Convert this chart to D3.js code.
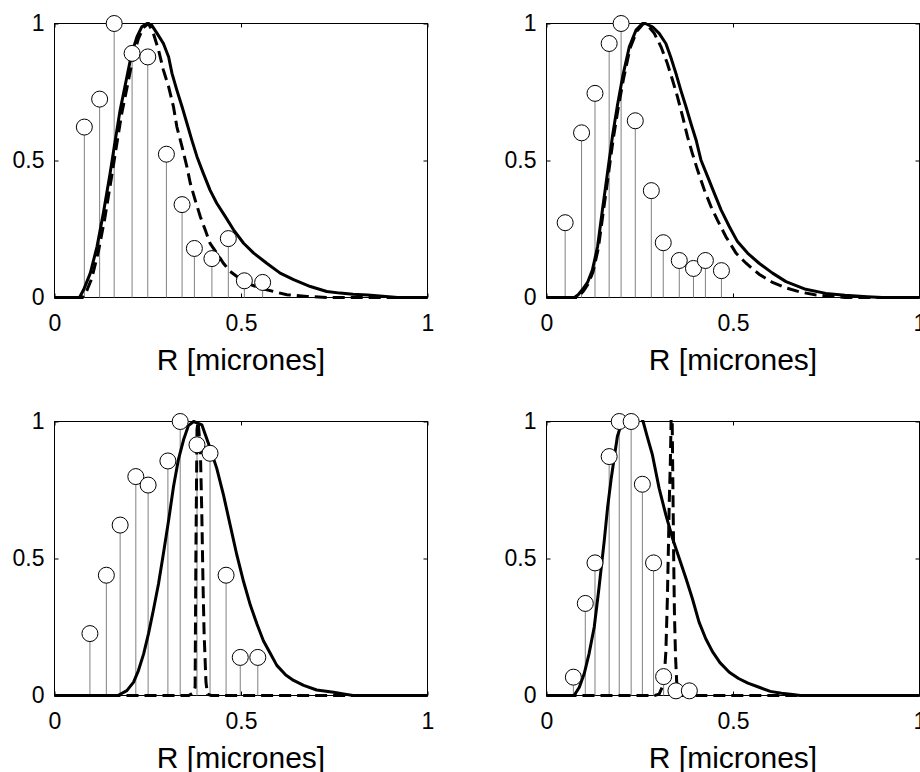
<!DOCTYPE html>
<html lang="en">
<head>
<meta charset="UTF-8">
<title>Distribucion de radios</title>
<script src="https://cdnjs.cloudflare.com/ajax/libs/d3/7.8.5/d3.min.js"></script>
<style>
    body { margin: 0; background: #fff; }
    svg { display: block; font-family: "Liberation Sans", Arial, sans-serif; }
    .stem { stroke: #808080; stroke-width: 1; }
    .marker { fill: #fff; stroke: #000; stroke-width: 1; }
    .solid { fill: none; stroke: #000; stroke-width: 3; stroke-linejoin: round; }
    .dashed { fill: none; stroke: #000; stroke-width: 3; stroke-dasharray: 12,6; }
    .box { fill: none; stroke: #000; stroke-width: 1; }
    .axis-label { font-size: 30px; text-anchor: middle; fill: #000; }
</style>
</head>
<body>
<div id="chart"></div>
<script>
// ticks and labels
const xTicks = [0, 0.5, 1];
const yTicks = [0, 0.5, 1];
const tickLabels = ["0", "0.5", "1"];
const xLabel = "R [micrones]";

// top left
const stemR1 = [0.080, 0.121, 0.160, 0.208, 0.250, 0.300, 0.342, 0.375, 0.422, 0.466, 0.509, 0.558];
const stemV1 = [0.622, 0.724, 1.0, 0.891, 0.878, 0.523, 0.339, 0.179, 0.142, 0.215, 0.061, 0.055];
const solid1 = [[0,0],[0.067,0],[0.078,0.028],[0.096,0.089],[0.114,0.186],[0.131,0.308],[0.149,0.453],[0.163,0.575],
    [0.176,0.684],[0.194,0.805],[0.207,0.891],[0.221,0.951],[0.234,0.988],[0.248,1.0],[0.26,0.995],[0.275,0.964],
    [0.292,0.927],[0.306,0.878],[0.315,0.818],[0.328,0.757],[0.342,0.696],[0.355,0.636],[0.368,0.575],[0.382,0.514],
    [0.399,0.453],[0.417,0.392],[0.435,0.344],[0.458,0.295],[0.48,0.247],[0.507,0.198],[0.534,0.162],[0.569,0.125],
    [0.605,0.089],[0.641,0.065],[0.686,0.04],[0.73,0.022],[0.766,0.016],[0.8,0.012],[0.84,0.009],[0.88,0.005],[0.92,0],[1,0]];
const dashed1 = [[0,0],[0.075,0],[0.082,0.01],[0.1,0.07],[0.118,0.17],[0.135,0.29],[0.153,0.44],[0.167,0.56],
    [0.18,0.67],[0.198,0.79],[0.211,0.88],[0.225,0.945],[0.238,0.985],[0.252,1.0],[0.265,0.964],[0.279,0.903],
    [0.292,0.83],[0.306,0.769],[0.319,0.696],[0.328,0.623],[0.342,0.55],[0.355,0.477],[0.364,0.417],[0.377,0.356],
    [0.391,0.295],[0.404,0.247],[0.417,0.198],[0.435,0.162],[0.453,0.125],[0.471,0.095],[0.489,0.077],[0.516,0.052],
    [0.552,0.034],[0.587,0.022],[0.623,0.01],[0.677,0.004],[0.73,0],[1,0]];

// top right
const stemR2 = [0.050, 0.094, 0.130, 0.168, 0.200, 0.238, 0.281, 0.313, 0.356, 0.394, 0.426, 0.469];
const stemV2 = [0.273, 0.601, 0.745, 0.927, 1.0, 0.645, 0.390, 0.200, 0.135, 0.106, 0.135, 0.098];
const solid2 = [[0,0],[0.075,0],[0.085,0.01],[0.097,0.03],[0.11,0.055],[0.123,0.1],[0.137,0.186],[0.15,0.32],
    [0.164,0.46],[0.177,0.59],[0.19,0.7],[0.204,0.805],[0.222,0.915],[0.24,0.976],[0.257,1.0],[0.265,1.0],
    [0.284,0.988],[0.302,0.964],[0.32,0.927],[0.333,0.878],[0.347,0.818],[0.36,0.757],[0.374,0.696],[0.387,0.636],
    [0.401,0.575],[0.414,0.502],[0.432,0.441],[0.45,0.38],[0.468,0.32],[0.49,0.259],[0.512,0.204],[0.539,0.162],
    [0.57,0.125],[0.606,0.089],[0.642,0.058],[0.695,0.03],[0.749,0.015],[0.8,0.008],[0.86,0.003],[0.9,0],[1,0]];
const dashed2 = [[0,0],[0.08,0],[0.09,0.01],[0.1,0.025],[0.112,0.05],[0.125,0.095],[0.139,0.18],[0.152,0.31],
    [0.166,0.45],[0.179,0.58],[0.192,0.69],[0.206,0.795],[0.224,0.91],[0.242,0.972],[0.26,1.0],[0.268,0.998],
    [0.289,0.964],[0.307,0.915],[0.324,0.854],[0.338,0.793],[0.351,0.733],[0.365,0.66],[0.378,0.587],[0.391,0.526],
    [0.405,0.465],[0.423,0.393],[0.441,0.332],[0.458,0.283],[0.481,0.222],[0.508,0.162],[0.535,0.125],[0.57,0.085],
    [0.606,0.055],[0.642,0.035],[0.68,0.02],[0.72,0.01],[0.76,0.005],[0.8,0],[1,0]];

// bottom left
const stemR3 = [0.095, 0.139, 0.176, 0.218, 0.251, 0.304, 0.337, 0.382, 0.417, 0.460, 0.498, 0.545];
const stemV3 = [0.226, 0.439, 0.622, 0.799, 0.768, 0.856, 1.0, 0.915, 0.884, 0.439, 0.139, 0.139];
const solid3 = [[0,0],[0.17,0],[0.194,0.018],[0.212,0.049],[0.225,0.091],[0.239,0.152],[0.252,0.226],[0.265,0.311],
    [0.279,0.409],[0.292,0.518],[0.306,0.64],[0.319,0.762],[0.332,0.86],[0.346,0.933],[0.359,0.985],[0.373,1.0],
    [0.395,0.988],[0.417,0.903],[0.435,0.829],[0.453,0.732],[0.471,0.622],[0.489,0.512],[0.507,0.415],[0.525,0.33],
    [0.543,0.26],[0.56,0.2],[0.578,0.155],[0.596,0.11],[0.62,0.075],[0.641,0.055],[0.668,0.037],[0.703,0.02],
    [0.748,0.012],[0.775,0.006],[0.8,0],[1,0]];
const dashed3 = [[0,0],[0.36,0],[0.372,0.01],[0.377,0.03],[0.379,0.5],[0.382,0.97],[0.385,1.0],[0.391,0.9],
    [0.395,0.66],[0.398,0.42],[0.401,0.23],[0.406,0.05],[0.41,0.005],[0.42,0],[1,0]];

// bottom right
const stemR4 = [0.072, 0.104, 0.130, 0.168, 0.195, 0.227, 0.257, 0.287, 0.314, 0.347, 0.383];
const stemV4 = [0.067, 0.336, 0.484, 0.872, 1.0, 1.0, 0.771, 0.484, 0.069, 0.017, 0.017];
const solid4 = [[0,0],[0.074,0],[0.088,0.03],[0.101,0.079],[0.114,0.152],[0.128,0.25],[0.141,0.396],[0.155,0.567],
    [0.164,0.689],[0.173,0.787],[0.182,0.872],[0.19,0.945],[0.204,1.006],[0.215,1.04],[0.23,1.05],[0.245,1.04],
    [0.259,1.0],[0.271,0.94],[0.284,0.878],[0.302,0.756],[0.32,0.659],[0.338,0.573],[0.356,0.5],[0.374,0.427],
    [0.391,0.354],[0.409,0.268],[0.427,0.207],[0.445,0.16],[0.465,0.12],[0.49,0.085],[0.515,0.062],[0.54,0.045],
    [0.57,0.03],[0.6,0.015],[0.63,0.008],[0.66,0.004],[0.68,0],[1,0]];
const dashed4 = [[0,0],[0.29,0],[0.302,0.005],[0.31,0.03],[0.316,0.075],[0.32,0.16],[0.324,0.35],[0.327,0.55],
    [0.329,0.7],[0.332,0.85],[0.334,1.0],[0.336,1.08],[0.337,1.0],[0.339,0.75],[0.341,0.5],[0.343,0.3],
    [0.346,0.14],[0.349,0.05],[0.353,0.01],[0.36,0],[1,0]];

// panel layout
const W = 373, H = 274;
const panels = [
    {left: 54.5,  top: 23.5,  stemR: stemR1, stemV: stemV1, solid: solid1, dashed: dashed1},
    {left: 546.5, top: 23.5,  stemR: stemR2, stemV: stemV2, solid: solid2, dashed: dashed2},
    {left: 54.5,  top: 421.5, stemR: stemR3, stemV: stemV3, solid: solid3, dashed: dashed3},
    {left: 546.5, top: 421.5, stemR: stemR4, stemV: stemV4, solid: solid4, dashed: dashed4}
];

const svg = d3.select("#chart")
    .append("svg")
    .attr("width", 920)
    .attr("height", 772);

const x = d3.scaleLinear().domain([0, 1]).range([0, W]);
const y = d3.scaleLinear().domain([0, 1]).range([H, 0]);

const line = d3.line()
    .x(d => x(d[0]))
    .y(d => y(d[1]));

panels.forEach((p, i) => {
    const g = svg.append("g").attr("transform", `translate(${p.left},${p.top})`);

    g.append("clipPath")
        .attr("id", "clip" + i)
        .append("rect")
        .attr("x", -3).attr("y", -1.5)
        .attr("width", W + 6).attr("height", H + 4.5);

    // axes, ticks pointing inward like matlab
    const styleAxis = sel => {
        sel.select(".domain").remove();
        sel.selectAll(".tick line").attr("stroke", "#000");
        sel.selectAll(".tick text")
            .attr("fill", "#000")
            .attr("font-size", "23px")
            .attr("font-family", "'Liberation Sans', Arial, sans-serif");
    };

    g.append("g")
        .attr("transform", `translate(0,${H})`)
        .call(d3.axisBottom(x).tickValues(xTicks).tickFormat((d, k) => tickLabels[k])
            .tickSizeInner(-4).tickSizeOuter(0).tickPadding(17))
        .call(styleAxis);
    g.append("g")
        .call(d3.axisLeft(y).tickValues(yTicks).tickFormat((d, k) => tickLabels[k])
            .tickSizeInner(-4).tickSizeOuter(0).tickPadding(10))
        .call(styleAxis);
    g.append("g")
        .call(d3.axisTop(x).tickValues(xTicks).tickFormat("").tickSizeInner(-4).tickSizeOuter(0))
        .call(styleAxis);
    g.append("g")
        .attr("transform", `translate(${W},0)`)
        .call(d3.axisRight(y).tickValues(yTicks).tickFormat("").tickSizeInner(-4).tickSizeOuter(0))
        .call(styleAxis);

    g.append("rect")
        .attr("class", "box")
        .attr("width", W)
        .attr("height", H);

    const plot = g.append("g").attr("clip-path", `url(#clip${i})`);

    const pts = p.stemR.map((r, k) => ({r: r, v: p.stemV[k]}));

    plot.selectAll(".stem")
        .data(pts)
        .enter().append("line")
        .attr("class", "stem")
        .attr("x1", d => x(d.r))
        .attr("x2", d => x(d.r))
        .attr("y1", y(0))
        .attr("y2", d => y(d.v));

    g.selectAll(".marker")
        .data(pts)
        .enter().append("circle")
        .attr("class", "marker")
        .attr("cx", d => x(d.r))
        .attr("cy", d => y(d.v))
        .attr("r", 8);

    plot.append("path")
        .datum(p.solid)
        .attr("class", "solid")
        .attr("d", line);

    plot.append("path")
        .datum(p.dashed)
        .attr("class", "dashed")
        .attr("d", line);

    g.append("text")
        .attr("class", "axis-label")
        .attr("x", W / 2)
        .attr("y", H + 72)
        .text(xLabel);
});
</script>
</body>
</html>
